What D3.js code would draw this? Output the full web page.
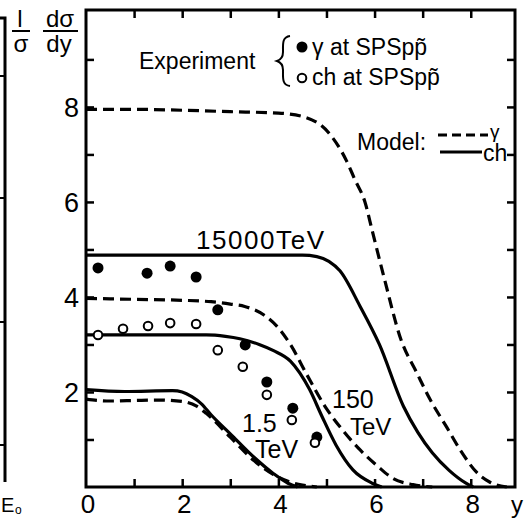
<!DOCTYPE html>
<html>
<head>
<meta charset="utf-8">
<script src="https://cdn.jsdelivr.net/npm/d3@7"></script>
<style>
  body { margin: 0; background: #fff; }
  svg text { font-family: "Liberation Sans", Arial, sans-serif; fill: #000; }
</style>
</head>
<body>
<div id="canvas"></div>
<script>
// model curves (y, 1/sigma dsigma/dy)
const gamma15000 = [[0,7.95],[1,7.95],[2,7.93],[3,7.9],[4,7.87],[4.5,7.8],[5.05,7.45],[5.4,6.9],[5.6,6.45],[5.8,6.0],[5.95,5.4],[6.2,4.4],[6.55,3.1],[6.88,2.4],[7.15,1.85],[7.5,1.26],[7.8,0.75],[8.13,0.3],[8.4,0.1],[8.75,0]];
const ch15000 = [[0,4.88],[4.5,4.88],[4.8,4.85],[5.05,4.75],[5.28,4.55],[5.7,3.8],[6.1,3.0],[6.6,1.7],[6.9,1.15],[7.2,0.72],[7.55,0.35],[7.9,0.08],[8.05,0]];
const gamma150 = [[0,3.97],[1,3.95],[2,3.93],[2.6,3.9],[3.0,3.85],[3.3,3.8],[3.7,3.62],[4.0,3.35],[4.25,3.0],[4.6,2.35],[5.0,1.65],[5.35,1.18],[5.7,0.78],[6.05,0.45],[6.4,0.17],[6.8,0.05],[7.2,0]];
const ch150 = [[0,3.2],[2.5,3.2],[2.9,3.17],[3.2,3.12],[3.6,3.0],[3.9,2.87],[4.25,2.65],[4.65,2.05],[4.9,1.5],[5.2,0.88],[5.55,0.36],[5.95,0.08],[6.15,0]];
const gamma1_5 = [[0,1.85],[0.5,1.81],[1,1.82],[1.5,1.83],[2.0,1.8],[2.3,1.7],[2.5,1.55],[3.0,1.05],[3.5,0.55],[3.9,0.26],[4.2,0.12],[4.5,0.04],[4.8,0]];
const ch1_5 = [[0,2.05],[0.8,2.01],[1.8,2.03],[2.0,2.0],[2.2,1.9],[2.4,1.75],[2.6,1.52],[3.0,1.12],[3.5,0.62],[3.9,0.28],[4.2,0.08],[4.4,0]];

// experiment, SPS p pbar
const gammaData = [[0.25,4.61],[1.27,4.5],[1.75,4.65],[2.29,4.42],[2.74,3.73],[3.31,2.99],[3.76,2.21],[4.3,1.66],[4.8,1.05]];
const chData = [[0.25,3.2],[0.77,3.33],[1.29,3.39],[1.75,3.45],[2.29,3.43],[2.74,2.88],[3.26,2.53],[3.76,1.94],[4.28,1.41],[4.76,0.93]];

const xTicks = [0,2,4,6,8];
const yTicks = [2,4,6,8];

const width = 525, height = 519;
const margin = {top:10, left:86, bottom:32, right:10};
const iwidth = width - margin.left - margin.right;
const iheight = height - margin.top - margin.bottom;

const svg = d3.select("#canvas").append("svg")
    .attr("width", width)
    .attr("height", height);

const g = svg.append("g").attr("transform", `translate(${margin.left},${margin.top})`);

const x = d3.scaleLinear().domain([0, 8.92]).range([0, iwidth]);
const y = d3.scaleLinear().domain([0, 10.04]).range([iheight, 0]);

// inward ticks on all four sides
function tickAxis(axis, tr) {
    const a = g.append("g").attr("transform", tr).call(axis);
    a.select(".domain").remove();
    a.selectAll(".tick line").attr("stroke", "#000").attr("stroke-width", 2.5);
    return a;
}
const ints = d3.range(1, 10);
tickAxis(d3.axisBottom(x).tickValues(d3.range(1, 9)).tickSize(-8).tickFormat(""), `translate(0,${iheight})`);
tickAxis(d3.axisTop(x).tickValues(d3.range(1, 9)).tickSize(-8).tickFormat(""), "translate(0,0)");
tickAxis(d3.axisLeft(y).tickValues(ints).tickSize(-8).tickFormat(""), "translate(0,0)");
tickAxis(d3.axisRight(y).tickValues(ints).tickSize(-8).tickFormat(""), `translate(${iwidth},0)`);

g.append("rect").attr("x", 0).attr("y", 0).attr("width", iwidth).attr("height", iheight)
    .attr("fill", "none").attr("stroke", "#000").attr("stroke-width", 3);

// tick labels
g.selectAll(".xl").data(xTicks).enter().append("text")
    .attr("x", d => x(d) + 2).attr("y", iheight + 26)
    .attr("text-anchor", "middle").attr("font-size", 26).text(d => d);
g.append("text").attr("x", iwidth - 4).attr("y", iheight + 26)
    .attr("font-size", 24).text("y");
g.selectAll(".yl").data(yTicks).enter().append("text")
    .attr("x", -7).attr("y", d => y(d) + 10)
    .attr("text-anchor", "end").attr("font-size", 27).text(d => d);

// curves
const line = d3.line().x(d => x(d[0])).y(d => y(d[1])).curve(d3.curveMonotoneX);
const curves = [
    {d: gamma15000, dash: true}, {d: ch15000, dash: false},
    {d: gamma150, dash: true}, {d: ch150, dash: false},
    {d: gamma1_5, dash: true}, {d: ch1_5, dash: false}
];
g.selectAll(".curve").data(curves).enter().append("path")
    .attr("d", c => line(c.d))
    .attr("fill", "none").attr("stroke", "#000").attr("stroke-width", 3.2)
    .attr("stroke-dasharray", c => c.dash ? "11,6" : null);

// points
g.selectAll(".gp").data(gammaData).enter().append("circle")
    .attr("cx", d => x(d[0])).attr("cy", d => y(d[1])).attr("r", 5.5).attr("fill", "#000");
g.selectAll(".cp").data(chData).enter().append("circle")
    .attr("cx", d => x(d[0])).attr("cy", d => y(d[1])).attr("r", 4.3)
    .attr("fill", "#fff").attr("stroke", "#000").attr("stroke-width", 2);

// energy labels
g.append("text").attr("x", 110).attr("y", 239).attr("font-size", 26)
    .attr("textLength", 128).attr("lengthAdjust", "spacing").text("15000TeV");
g.append("text").attr("x", 246).attr("y", 398).attr("font-size", 25).text("150");
g.append("text").attr("x", 264).attr("y", 425).attr("font-size", 24).text("TeV");
g.append("text").attr("x", 156).attr("y", 422).attr("font-size", 25).text("1.5");
g.append("text").attr("x", 169).attr("y", 448).attr("font-size", 25).text("TeV");

// legend
svg.append("text").attr("x", 139).attr("y", 69).attr("font-size", 23).text("Experiment");
svg.append("path").attr("d", "M290,36 C282,37 283,44 283,52 C283,58 280,60 277,61 C280,62 283,64 283,70 C283,78 282,85 290,86")
    .attr("fill", "none").attr("stroke", "#000").attr("stroke-width", 2);
svg.append("circle").attr("cx", 302).attr("cy", 47).attr("r", 5.5).attr("fill", "#000");
svg.append("text").attr("x", 312).attr("y", 55).attr("font-size", 23).text("γ at SPSpp̃");
svg.append("circle").attr("cx", 302).attr("cy", 78).attr("r", 4.3).attr("fill", "#fff").attr("stroke", "#000").attr("stroke-width", 2);
svg.append("text").attr("x", 312).attr("y", 85).attr("font-size", 23).text("ch at SPSpp̃");

svg.append("text").attr("x", 357).attr("y", 150).attr("font-size", 23).text("Model:");
svg.append("line").attr("x1", 438).attr("x2", 488).attr("y1", 135).attr("y2", 135)
    .attr("stroke", "#000").attr("stroke-width", 3).attr("stroke-dasharray", "9,5");
svg.append("text").attr("x", 490).attr("y", 138).attr("font-size", 19).text("γ");
svg.append("line").attr("x1", 440).attr("x2", 482).attr("y1", 152).attr("y2", 152)
    .attr("stroke", "#000").attr("stroke-width", 3);
svg.append("text").attr("x", 483).attr("y", 161).attr("font-size", 23).text("ch");

// y axis title: 1/sigma dsigma/dy
const yt = svg.append("g");
yt.append("text").attr("x", 20).attr("y", 27).attr("font-size", 24).attr("text-anchor", "middle").text("l");
yt.append("line").attr("x1", 12).attr("x2", 30).attr("y1", 31).attr("y2", 31).attr("stroke", "#000").attr("stroke-width", 2);
yt.append("text").attr("x", 21).attr("y", 52).attr("font-size", 24).attr("text-anchor", "middle").text("σ");
yt.append("text").attr("x", 60).attr("y", 27).attr("font-size", 24).attr("text-anchor", "middle").text("dσ");
yt.append("line").attr("x1", 43).attr("x2", 78).attr("y1", 31).attr("y2", 31).attr("stroke", "#000").attr("stroke-width", 2);
yt.append("text").attr("x", 59).attr("y", 52).attr("font-size", 24).attr("text-anchor", "middle").text("dy");

// neighbouring panel edge on the left
svg.append("path").attr("d", "M0,18 H5 V482").attr("fill", "none").attr("stroke", "#000").attr("stroke-width", 3);
svg.selectAll(".lt").data([76, 198, 322, 445]).enter().append("line")
    .attr("x1", 0).attr("x2", 5).attr("y1", d => d).attr("y2", d => d)
    .attr("stroke", "#000").attr("stroke-width", 2);
svg.append("text").attr("x", 1).attr("y", 512).attr("font-size", 20).text("E");
svg.append("text").attr("x", 15).attr("y", 514).attr("font-size", 12).text("o");
</script>
</body>
</html>
